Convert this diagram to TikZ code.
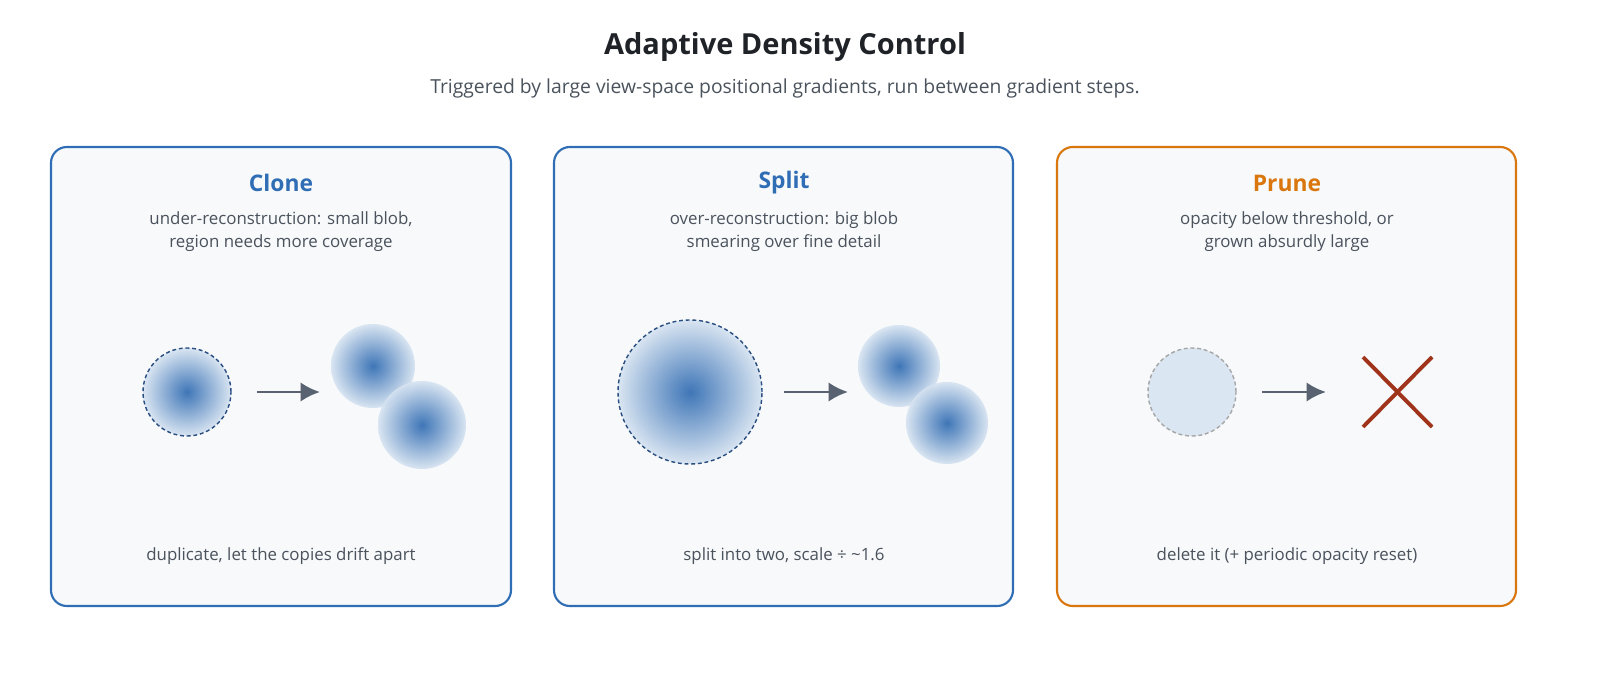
\documentclass[tikz,border=0pt]{standalone}
\usepackage{fontspec}
\setmainfont{Open Sans}
\usetikzlibrary{arrows.meta}
\begin{document}
\definecolor{pblue}{HTML}{2F6DB5}
\definecolor{porange}{HTML}{D9770E}
\definecolor{pfill}{HTML}{F7F9FB}
\definecolor{ptxt}{HTML}{4A525C}
\definecolor{pdark}{HTML}{1F2328}
\definecolor{parrow}{HTML}{596270}
\definecolor{bedge}{HTML}{D6E3F1}
\definecolor{bcore}{HTML}{2B68B0}
\definecolor{dashb}{HTML}{2A4E80}
\definecolor{xred}{HTML}{A0341B}
\begin{tikzpicture}[x=0.02cm,y=-0.02cm,
 panel/.style={draw=#1,line width=1.2pt,fill=pfill,rounded corners=9pt},
 ptitle/.style={font=\fontsize{13}{15}\selectfont\bfseries,text=#1},
 desc/.style={font=\fontsize{9.6}{13}\selectfont,text=ptxt,align=center},
 blob/.style={circle,inner sep=0pt,minimum size=#1,shading=radial,inner color=bcore,outer color=bedge,opacity=0.9},
 dashring/.style={circle,inner sep=0pt,minimum size=#1,draw=dashb,dash pattern=on 2.2pt off 1.6pt,line width=0.8pt},
 arr/.style={draw=parrow,line width=1.7pt,-{Latex[length=11pt,width=11pt]}}]
\node[font=\fontsize{16.5}{19}\selectfont\bfseries,text=pdark] (t) at (785,47) {Adaptive Density Control};
\node[font=\fontsize{11}{13}\selectfont,text=ptxt] (st) at (785,88) {Triggered by large view-space positional gradients, run between gradient steps.};
% Clone
\draw[panel=pblue] (51,147) rectangle (511,606);
\node[ptitle=pblue] (ct) at (281,183) {Clone};
\node[desc] (cd) at (281,232) {under-reconstruction: small blob,\\region needs more coverage};
\node[blob=88*0.02cm] (c0) at (187,392) {};
\node[dashring=88*0.02cm] (c0r) at (187,392) {};
\node[blob=84*0.02cm] (c1) at (373,366) {};
\node[blob=88*0.02cm] (c2) at (422,425) {};
\coordinate (ca) at (257,392); \coordinate (cb) at (320,392);
\draw[arr] (ca) -- (cb);
\node[desc] (cf) at (281,556) {duplicate, let the copies drift apart};
% Split
\draw[panel=pblue] (554,147) rectangle (1013,606);
\node[ptitle=pblue] (sT) at (784,183) {Split};
\node[desc] (sd) at (784,232) {over-reconstruction: big blob\\smearing over fine detail};
\node[blob=144*0.02cm] (s0) at (690,392) {};
\node[dashring=144*0.02cm] (s0r) at (690,392) {};
\node[blob=82*0.02cm] (s1) at (899,366) {};
\node[blob=82*0.02cm] (s2) at (947,423) {};
\coordinate (sa) at (784,392); \coordinate (sb) at (848,392);
\draw[arr] (sa) -- (sb);
\node[desc] (sf) at (784,556) {split into two, scale ÷ \textasciitilde 1.6};
% Prune
\draw[panel=porange] (1057,147) rectangle (1516,606);
\node[ptitle=porange] (pt) at (1287,183) {Prune};
\node[desc] (pd) at (1287,232) {opacity below threshold, or\\grown absurdly large};
\node[circle,inner sep=0pt,minimum size=88*0.02cm,fill=bedge!90!white,draw=gray!70,dash pattern=on 2.2pt off 1.6pt,line width=0.8pt] (p0) at (1192,392) {};
\coordinate (pa) at (1262,392); \coordinate (pb) at (1326,392);
\draw[arr] (pa) -- (pb);
\coordinate (x1) at (1363,357); \coordinate (x2) at (1432,427);
\coordinate (x3) at (1432,357); \coordinate (x4) at (1363,427);
\draw[xred,line width=2.2pt] (x1) -- (x2) (x3) -- (x4);
\node[desc] (pf) at (1287,556) {delete it (+ periodic opacity reset)};
\pgfresetboundingbox
\path[use as bounding box] (0,0) rectangle (1600,696);
\end{tikzpicture}
\end{document}
